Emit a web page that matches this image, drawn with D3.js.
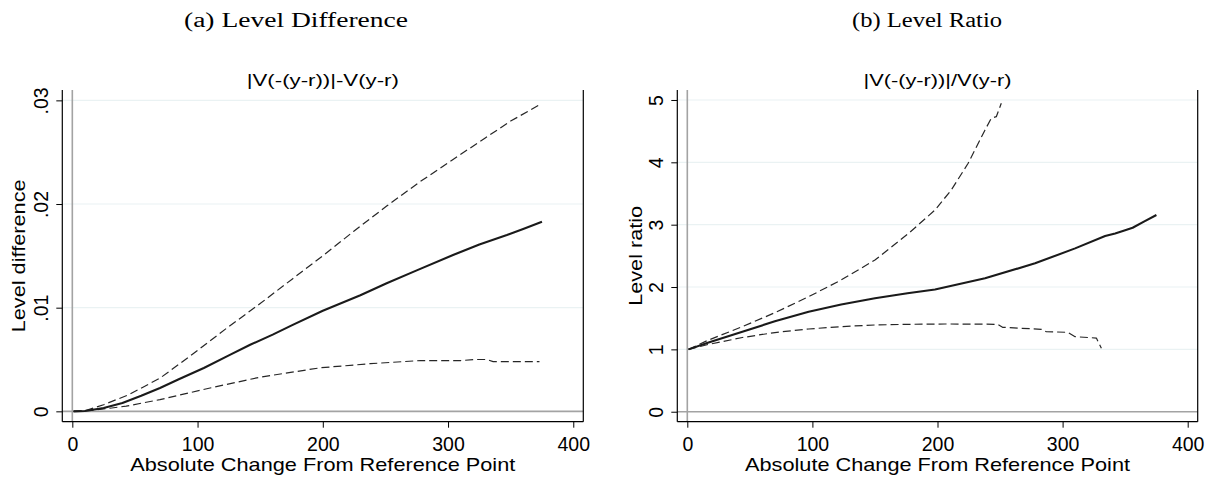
<!DOCTYPE html>
<html>
<head>
<meta charset="utf-8">
<script src="https://cdn.jsdelivr.net/npm/d3@7/dist/d3.min.js"></script>
<style>
  html, body { margin: 0; padding: 0; background: #fff; }
  svg { display: block; }
</style>
</head>
<body>
<svg id="chart" width="1217" height="478"></svg>
<script>
// ---------------- DATA ----------------
const panelTitles = ["(a) Level Difference", "(b) Level Ratio"];
const subTitles = ["|V(-(y-r))|-V(y-r)", "|V(-(y-r))|/V(y-r)"];
const xTitle = "Absolute Change From Reference Point";
const yTitles = ["Level difference", "Level ratio"];

const xTicks = [0, 100, 200, 300, 400];
const xTickLabels = ["0", "100", "200", "300", "400"];
const yTicksA = [0, 0.01, 0.02, 0.03];
const yTickLabelsA = ["0", ".01", ".02", ".03"];
const yTicksB = [0, 1, 2, 3, 4, 5];
const yTickLabelsB = ["0", "1", "2", "3", "4", "5"];

// Panel (a): level difference
const diffMidX = [1, 10, 25, 40, 55, 70, 85, 105, 125, 142, 160, 176, 200, 230, 251, 275, 304, 325, 347, 360, 375];
const diffMidY = [0, 0.00003, 0.00033, 0.0008, 0.0015, 0.00225, 0.0031, 0.00418, 0.0054, 0.00642, 0.0074, 0.00834, 0.0097, 0.0112, 0.01236, 0.0136, 0.01508, 0.0161, 0.01701, 0.0176, 0.01829];

const diffHiX = [1, 10, 25, 45, 70, 97, 123, 150, 176, 200, 225, 251, 277, 304, 330, 350, 372];
const diffHiY = [0, 0.00005, 0.00064, 0.0016, 0.0032, 0.0056, 0.0080, 0.0104, 0.0128, 0.0150, 0.0174, 0.0198, 0.0221, 0.0243, 0.0264, 0.0280, 0.0295];

const diffLoX = [1, 15, 30, 43, 70, 110, 150, 198, 238, 278, 310, 322, 331, 336, 355, 373];
const diffLoY = [0, 0.0001, 0.0003, 0.0005, 0.00113, 0.00225, 0.0033, 0.0042, 0.0046, 0.0049, 0.0049, 0.0050, 0.0050, 0.0048, 0.0048, 0.0048];

// Panel (b): level ratio
const ratioMidX = [1, 17, 44, 70, 97, 123, 150, 176, 198, 238, 278, 310, 334, 342, 350, 356, 365, 375];
const ratioMidY = [1.0, 1.11, 1.283, 1.45, 1.604, 1.72, 1.819, 1.90, 1.96, 2.14, 2.38, 2.62, 2.818, 2.86, 2.91, 2.95, 3.05, 3.155];

const ratioHiX = [1, 17, 44, 70, 97, 123, 150, 177, 198, 211, 224.5, 238, 243, 247, 251];
const ratioHiY = [1.0, 1.15, 1.364, 1.588, 1.845, 2.113, 2.433, 2.862, 3.235, 3.556, 3.985, 4.52, 4.706, 4.732, 4.947];

const ratioLoX = [1, 17, 44, 70, 97, 123, 150, 176, 206, 230, 248, 252, 283, 287, 304, 310, 327, 331];
const ratioLoY = [1.0, 1.08, 1.19, 1.27, 1.327, 1.365, 1.391, 1.402, 1.407, 1.405, 1.402, 1.354, 1.322, 1.283, 1.274, 1.203, 1.182, 1.017];

// ---------------- LAYOUT ----------------
const svg = d3.select("#chart");
const sansFont = "'Liberation Sans', Arial, Helvetica, sans-serif";
const serifFont = "'Liberation Serif', 'DejaVu Serif', serif";

const zip = (xs, ys) => xs.map((x, i) => ({x: x, y: ys[i]}));

const panels = [
  {
    left: 62.3, right: 583.3, top: 90, bottom: 421.7,
    yDomain: [-0.001, 0.031],
    yTicks: yTicksA, yTickLabels: yTickLabelsA,
    title: panelTitles[0], titleCx: 296, titleLen: 224,
    sub: subTitles[0], subLen: 152,
    yTitle: yTitles[0], yTitleLen: 153, yTitleX: 25, yLabX: 47.5,
    series: [
      {data: zip(diffHiX, diffHiY), dashed: true},
      {data: zip(diffLoX, diffLoY), dashed: true},
      {data: zip(diffMidX, diffMidY), dashed: false}
    ]
  },
  {
    left: 677.3, right: 1197.7, top: 90, bottom: 421.7,
    yDomain: [-0.16, 5.16],
    yTicks: yTicksB, yTickLabels: yTickLabelsB,
    title: panelTitles[1], titleCx: 927, titleLen: 150,
    sub: subTitles[1], subLen: 148,
    yTitle: yTitles[1], yTitleLen: 100, yTitleX: 641.7, yLabX: 663,
    series: [
      {data: zip(ratioHiX, ratioHiY), dashed: true},
      {data: zip(ratioLoX, ratioLoY), dashed: true},
      {data: zip(ratioMidX, ratioMidY), dashed: false}
    ]
  }
];

panels.forEach(p => {
  const x = d3.scaleLinear().domain([-8, 408]).range([p.left, p.right]);
  const y = d3.scaleLinear().domain(p.yDomain).range([p.bottom, p.top]);
  const g = svg.append("g");
  const cx = (p.left + p.right) / 2;

  // gridlines
  g.append("g").selectAll("line").data(p.yTicks.filter(d => d !== 0)).join("line")
    .attr("x1", p.left).attr("x2", p.right)
    .attr("y1", d => y(d)).attr("y2", d => y(d))
    .attr("stroke", "#eaf2f3").attr("stroke-width", 1.2);

  // reference lines at 0
  g.append("line")
    .attr("x1", x(0)).attr("x2", x(0)).attr("y1", p.top).attr("y2", p.bottom)
    .attr("stroke", "#a3a3a3").attr("stroke-width", 1.6);
  g.append("line")
    .attr("x1", p.left).attr("x2", p.right).attr("y1", y(0)).attr("y2", y(0))
    .attr("stroke", "#a3a3a3").attr("stroke-width", 1.6);

  // right border
  g.append("line")
    .attr("x1", p.right).attr("x2", p.right).attr("y1", p.top).attr("y2", p.bottom)
    .attr("stroke", "#000").attr("stroke-width", 1.2);

  // lines
  const line = d3.line().x(d => x(d.x)).y(d => y(d.y));
  p.series.forEach(s => {
    g.append("path").datum(s.data)
      .attr("d", line)
      .attr("fill", "none")
      .attr("stroke", s.dashed ? "#262626" : "#1a1a1a")
      .attr("stroke-width", s.dashed ? 1.2 : 2.1)
      .attr("stroke-dasharray", s.dashed ? "8,4" : null)
      .attr("stroke-linejoin", "round");
  });

  // x axis
  const xAxis = d3.axisBottom(x).tickValues(xTicks)
    .tickFormat((d, i) => xTickLabels[i]).tickSizeOuter(0).tickSize(6);
  const gx = g.append("g").attr("transform", `translate(0,${p.bottom})`).call(xAxis);
  gx.select(".domain").attr("stroke", "#000").attr("stroke-width", 1.2)
    .attr("d", `M${p.left},0H${p.right}`);
  gx.selectAll(".tick line").attr("stroke", "#000").attr("stroke-width", 1);
  gx.selectAll(".tick text")
    .attr("y", 29.3).attr("dy", null)
    .attr("font-family", sansFont).attr("font-size", 19.5).attr("fill", "#000");

  // y axis
  const yAxis = d3.axisLeft(y).tickValues(p.yTicks)
    .tickFormat((d, i) => p.yTickLabels[i]).tickSizeOuter(0).tickSize(6);
  const gy = g.append("g").attr("transform", `translate(${p.left},0)`).call(yAxis);
  gy.select(".domain").attr("stroke", "#000").attr("stroke-width", 1.2)
    .attr("d", `M0,${p.top}V${p.bottom}`);
  gy.selectAll(".tick line").attr("stroke", "#000").attr("stroke-width", 1);
  gy.selectAll(".tick text")
    .attr("x", 0).attr("dy", null).attr("y", p.yLabX - p.left)
    .attr("transform", "rotate(-90)")
    .attr("text-anchor", "middle")
    .attr("font-family", sansFont).attr("font-size", 19.5).attr("fill", "#000");

  // y title
  svg.append("text")
    .attr("transform", `translate(${p.yTitleX},${(p.top + p.bottom) / 2}) rotate(-90)`)
    .attr("text-anchor", "middle")
    .attr("font-family", sansFont).attr("font-size", 19)
    .attr("textLength", p.yTitleLen).attr("lengthAdjust", "spacingAndGlyphs")
    .text(p.yTitle);

  // x title
  svg.append("text")
    .attr("x", cx).attr("y", 470.5)
    .attr("text-anchor", "middle")
    .attr("font-family", sansFont).attr("font-size", 19)
    .attr("textLength", 385).attr("lengthAdjust", "spacingAndGlyphs")
    .text(xTitle);

  // subtitle
  svg.append("text")
    .attr("x", cx).attr("y", 86)
    .attr("text-anchor", "middle")
    .attr("font-family", sansFont).attr("font-size", 16)
    .attr("textLength", p.subLen).attr("lengthAdjust", "spacingAndGlyphs")
    .text(p.sub);

  // panel title
  svg.append("text")
    .attr("x", p.titleCx).attr("y", 27)
    .attr("text-anchor", "middle")
    .attr("font-family", serifFont).attr("font-size", 20.5)
    .attr("textLength", p.titleLen).attr("lengthAdjust", "spacingAndGlyphs")
    .text(p.title);
});
</script>
</body>
</html>
